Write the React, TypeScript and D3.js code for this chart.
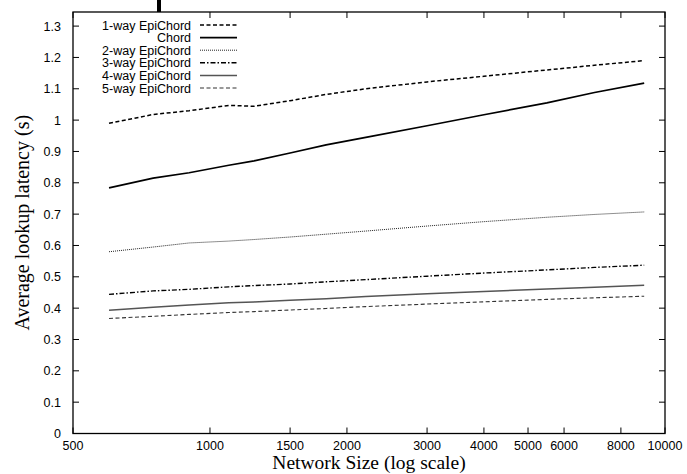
import React from "react";
import * as d3 from "d3";

const sizes = [600, 750, 900, 1100, 1250, 1500, 1800, 2200, 3000, 4000, 5500, 7000, 9000];
const oneWay = [0.99, 1.018, 1.03, 1.047, 1.044, 1.062, 1.082, 1.1, 1.122, 1.14, 1.16, 1.175, 1.19];
const chord = [0.784, 0.815, 0.832, 0.856, 0.87, 0.895, 0.921, 0.945, 0.982, 1.017, 1.055, 1.088, 1.118];
const twoWay = [0.58, 0.595, 0.608, 0.614, 0.619, 0.627, 0.636, 0.646, 0.662, 0.676, 0.69, 0.699, 0.707];
const threeWay = [0.444, 0.455, 0.46, 0.468, 0.472, 0.477, 0.484, 0.491, 0.502, 0.512, 0.522, 0.53, 0.537];
const fourWay = [0.393, 0.403, 0.41, 0.417, 0.42, 0.425, 0.43, 0.437, 0.446, 0.453, 0.461, 0.467, 0.473];
const fiveWay = [0.367, 0.374, 0.38, 0.386, 0.389, 0.394, 0.399, 0.405, 0.413, 0.42, 0.428, 0.433, 0.438];

const xTicks = [500, 1000, 1500, 2000, 3000, 4000, 5000, 6000, 8000, 10000];
const yTicks = [0, 0.1, 0.2, 0.3, 0.4, 0.5, 0.6, 0.7, 0.8, 0.9, 1, 1.1, 1.2, 1.3];

const seriesNames = ["1-way EpiChord", "Chord", "2-way EpiChord", "3-way EpiChord", "4-way EpiChord", "5-way EpiChord"];
const seriesValues = [oneWay, chord, twoWay, threeWay, fourWay, fiveWay];
const seriesStyles = [
  { stroke: "#000", width: 1.5, dash: "4,2.5" },
  { stroke: "#000", width: 1.7, dash: "" },
  { stroke: "#222", width: 1, dash: "1,1" },
  { stroke: "#000", width: 1.4, dash: "5,2,1.5,2" },
  { stroke: "#555", width: 1.5, dash: "" },
  { stroke: "#333", width: 1.1, dash: "4,2.5" },
];

const L = 73, R = 665, T = 12, B = 433.5;

export default function App() {
  const x = d3.scaleLog().domain([500, 10000]).range([L, R]);
  const y = d3.scaleLinear().domain([0, 1.345]).range([B, T]);
  const line = d3.line<number>().x((_, i) => x(sizes[i])).y((v) => y(v));
  const sans = "'Liberation Sans', Arial, sans-serif";
  const serif = "'Liberation Serif', 'Times New Roman', serif";
  return (
    <svg width={687} height={474} style={{ position: "absolute", left: 0, top: 0, background: "#fff" }}>
      <rect x={0} y={0} width={687} height={474} fill="#fff" />
      <rect x={157} y={0} width={4} height={T} fill="#000" />
      {seriesValues.map((vals, i) => (
        <path key={i} d={line(vals) || ""} fill="none" stroke={seriesStyles[i].stroke}
          strokeWidth={seriesStyles[i].width} strokeDasharray={seriesStyles[i].dash} />
      ))}
      {yTicks.map((t) => (
        <g key={"y" + t}>
          <line x1={L} x2={L + 6} y1={y(t)} y2={y(t)} stroke="#000" strokeWidth={1} />
          <line x1={R - 6} x2={R} y1={y(t)} y2={y(t)} stroke="#000" strokeWidth={1} />
          <text x={L - 12} y={y(t) + 4.5} fontFamily={sans} fontSize={12.5} textAnchor="end" fill="#000">{String(t)}</text>
        </g>
      ))}
      {xTicks.map((t) => (
        <g key={"x" + t}>
          <line x1={x(t)} x2={x(t)} y1={B} y2={B - 6} stroke="#000" strokeWidth={1} />
          <line x1={x(t)} x2={x(t)} y1={T} y2={T + 6} stroke="#000" strokeWidth={1} />
          <text x={x(t)} y={450} fontFamily={sans} fontSize={12.5} textAnchor="middle" fill="#000">{String(t)}</text>
        </g>
      ))}
      <rect x={L} y={T} width={R - L} height={B - T} fill="none" stroke="#000" strokeWidth={1.3} />
      {seriesNames.map((n, i) => {
        const ly = 25 + i * 12.6;
        const s = seriesStyles[i];
        return (
          <g key={n}>
            <text x={191} y={ly + 4.5} fontFamily={sans} fontSize={12.5} textAnchor="end" fill="#000">{n}</text>
            <line x1={200} x2={237} y1={ly} y2={ly} stroke={s.stroke} strokeWidth={s.width} strokeDasharray={s.dash} />
          </g>
        );
      })}
      <text x={(L + R) / 2} y={468.5} fontFamily={serif} fontSize={19.5} textAnchor="middle" fill="#000">Network Size (log scale)</text>
      <text transform={`translate(29,${(T + B) / 2}) rotate(-90)`} fontFamily={serif} fontSize={20} textAnchor="middle" fill="#000">Average lookup latency (s)</text>
    </svg>
  );
}
